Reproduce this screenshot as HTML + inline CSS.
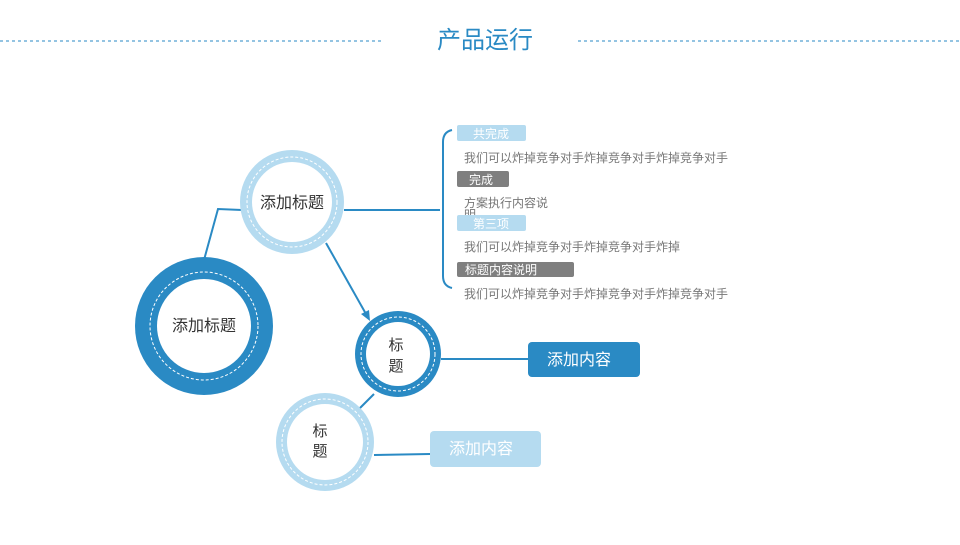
<!DOCTYPE html>
<html><head><meta charset="utf-8"><style>
body{margin:0;background:#fff;}
svg text{font-family:"Liberation Sans","Noto Sans CJK SC",sans-serif;}
</style></head><body>
<svg width="960" height="540" viewBox="0 0 960 540" xmlns="http://www.w3.org/2000/svg">
<line x1="0" y1="41" x2="383" y2="41" stroke="#2a8ac4" stroke-dasharray="3,3" stroke-width="1"/>
<line x1="578" y1="41" x2="960" y2="41" stroke="#2a8ac4" stroke-dasharray="3,3" stroke-width="1"/>
<text x="485" y="48" font-size="24" fill="#2a8ac4" text-anchor="middle">产品运行</text>

<g stroke="#2a8ac4" stroke-width="2" fill="none">
<polyline points="204,260 218,209 242,210"/>
<line x1="344" y1="210" x2="440" y2="210"/>
<path d="M452,130 Q443,132 443,142 L443,276 Q443,286 452,288"/>
<line x1="326" y1="243" x2="366" y2="314"/>
<line x1="441" y1="359" x2="528" y2="359"/>
<line x1="374" y1="394" x2="358" y2="410"/>
<line x1="374" y1="455" x2="430" y2="454"/>
</g>
<polygon points="370,321 361,314 369,310" fill="#2a8ac4"/>

<circle cx="204" cy="326" r="69" fill="#2a8ac4"/>
<circle cx="204" cy="326" r="47" fill="#fff"/>
<circle cx="204" cy="326" r="54" fill="none" stroke="#fff" stroke-dasharray="3,2" stroke-width="1"/>
<text x="204" y="331" font-size="16" fill="#333" text-anchor="middle">添加标题</text>

<circle cx="292" cy="202" r="52" fill="#b5dbf0"/>
<circle cx="292" cy="202" r="40" fill="#fff"/>
<circle cx="292" cy="202" r="45" fill="none" stroke="#fff" stroke-dasharray="3,2" stroke-width="1"/>
<text x="292" y="208" font-size="16" fill="#333" text-anchor="middle">添加标题</text>

<circle cx="398" cy="354" r="43" fill="#2a8ac4"/>
<circle cx="398" cy="354" r="32" fill="#fff"/>
<circle cx="398" cy="354" r="37" fill="none" stroke="#fff" stroke-dasharray="3,2" stroke-width="1"/>
<text x="396" y="350" font-size="15" fill="#333" text-anchor="middle">标</text>
<text x="396" y="371" font-size="15" fill="#333" text-anchor="middle">题</text>

<circle cx="325" cy="442" r="49" fill="#b5dbf0"/>
<circle cx="325" cy="442" r="38" fill="#fff"/>
<circle cx="325" cy="442" r="43" fill="none" stroke="#fff" stroke-dasharray="3,2" stroke-width="1"/>
<text x="320" y="436" font-size="15" fill="#333" text-anchor="middle">标</text>
<text x="320" y="456" font-size="15" fill="#333" text-anchor="middle">题</text>

<rect x="528" y="342" width="112" height="35" rx="4" fill="#2a8ac4"/>
<text x="579" y="365" font-size="16" fill="#fff" text-anchor="middle">添加内容</text>
<rect x="430" y="431" width="111" height="36" rx="4" fill="#b5dbf0"/>
<text x="481" y="454" font-size="16" fill="#fff" text-anchor="middle">添加内容</text>

<g font-size="12">
<rect x="457" y="125" width="69" height="16" rx="2" fill="#b5dbf0"/>
<text x="473" y="138" fill="#fff">共完成</text>
<text x="464" y="162" fill="#777">我们可以炸掉竞争对手炸掉竞争对手炸掉竞争对手</text>
<rect x="457" y="171" width="52" height="16" rx="2" fill="#7f7f7f"/>
<text x="469" y="184" fill="#fff">完成</text>
<text x="464" y="207" fill="#777">方案执行内容说</text>
<text x="464" y="219" fill="#777">明</text>
<rect x="457" y="215" width="69" height="16" rx="2" fill="#b5dbf0"/>
<text x="473" y="228" fill="#fff">第三项</text>
<text x="464" y="251" fill="#777">我们可以炸掉竞争对手炸掉竞争对手炸掉</text>
<rect x="457" y="262" width="117" height="15" rx="2" fill="#7f7f7f"/>
<text x="465" y="274" fill="#fff">标题内容说明</text>
<text x="464" y="298" fill="#777">我们可以炸掉竞争对手炸掉竞争对手炸掉竞争对手</text>
</g>
</svg>
</body></html>
